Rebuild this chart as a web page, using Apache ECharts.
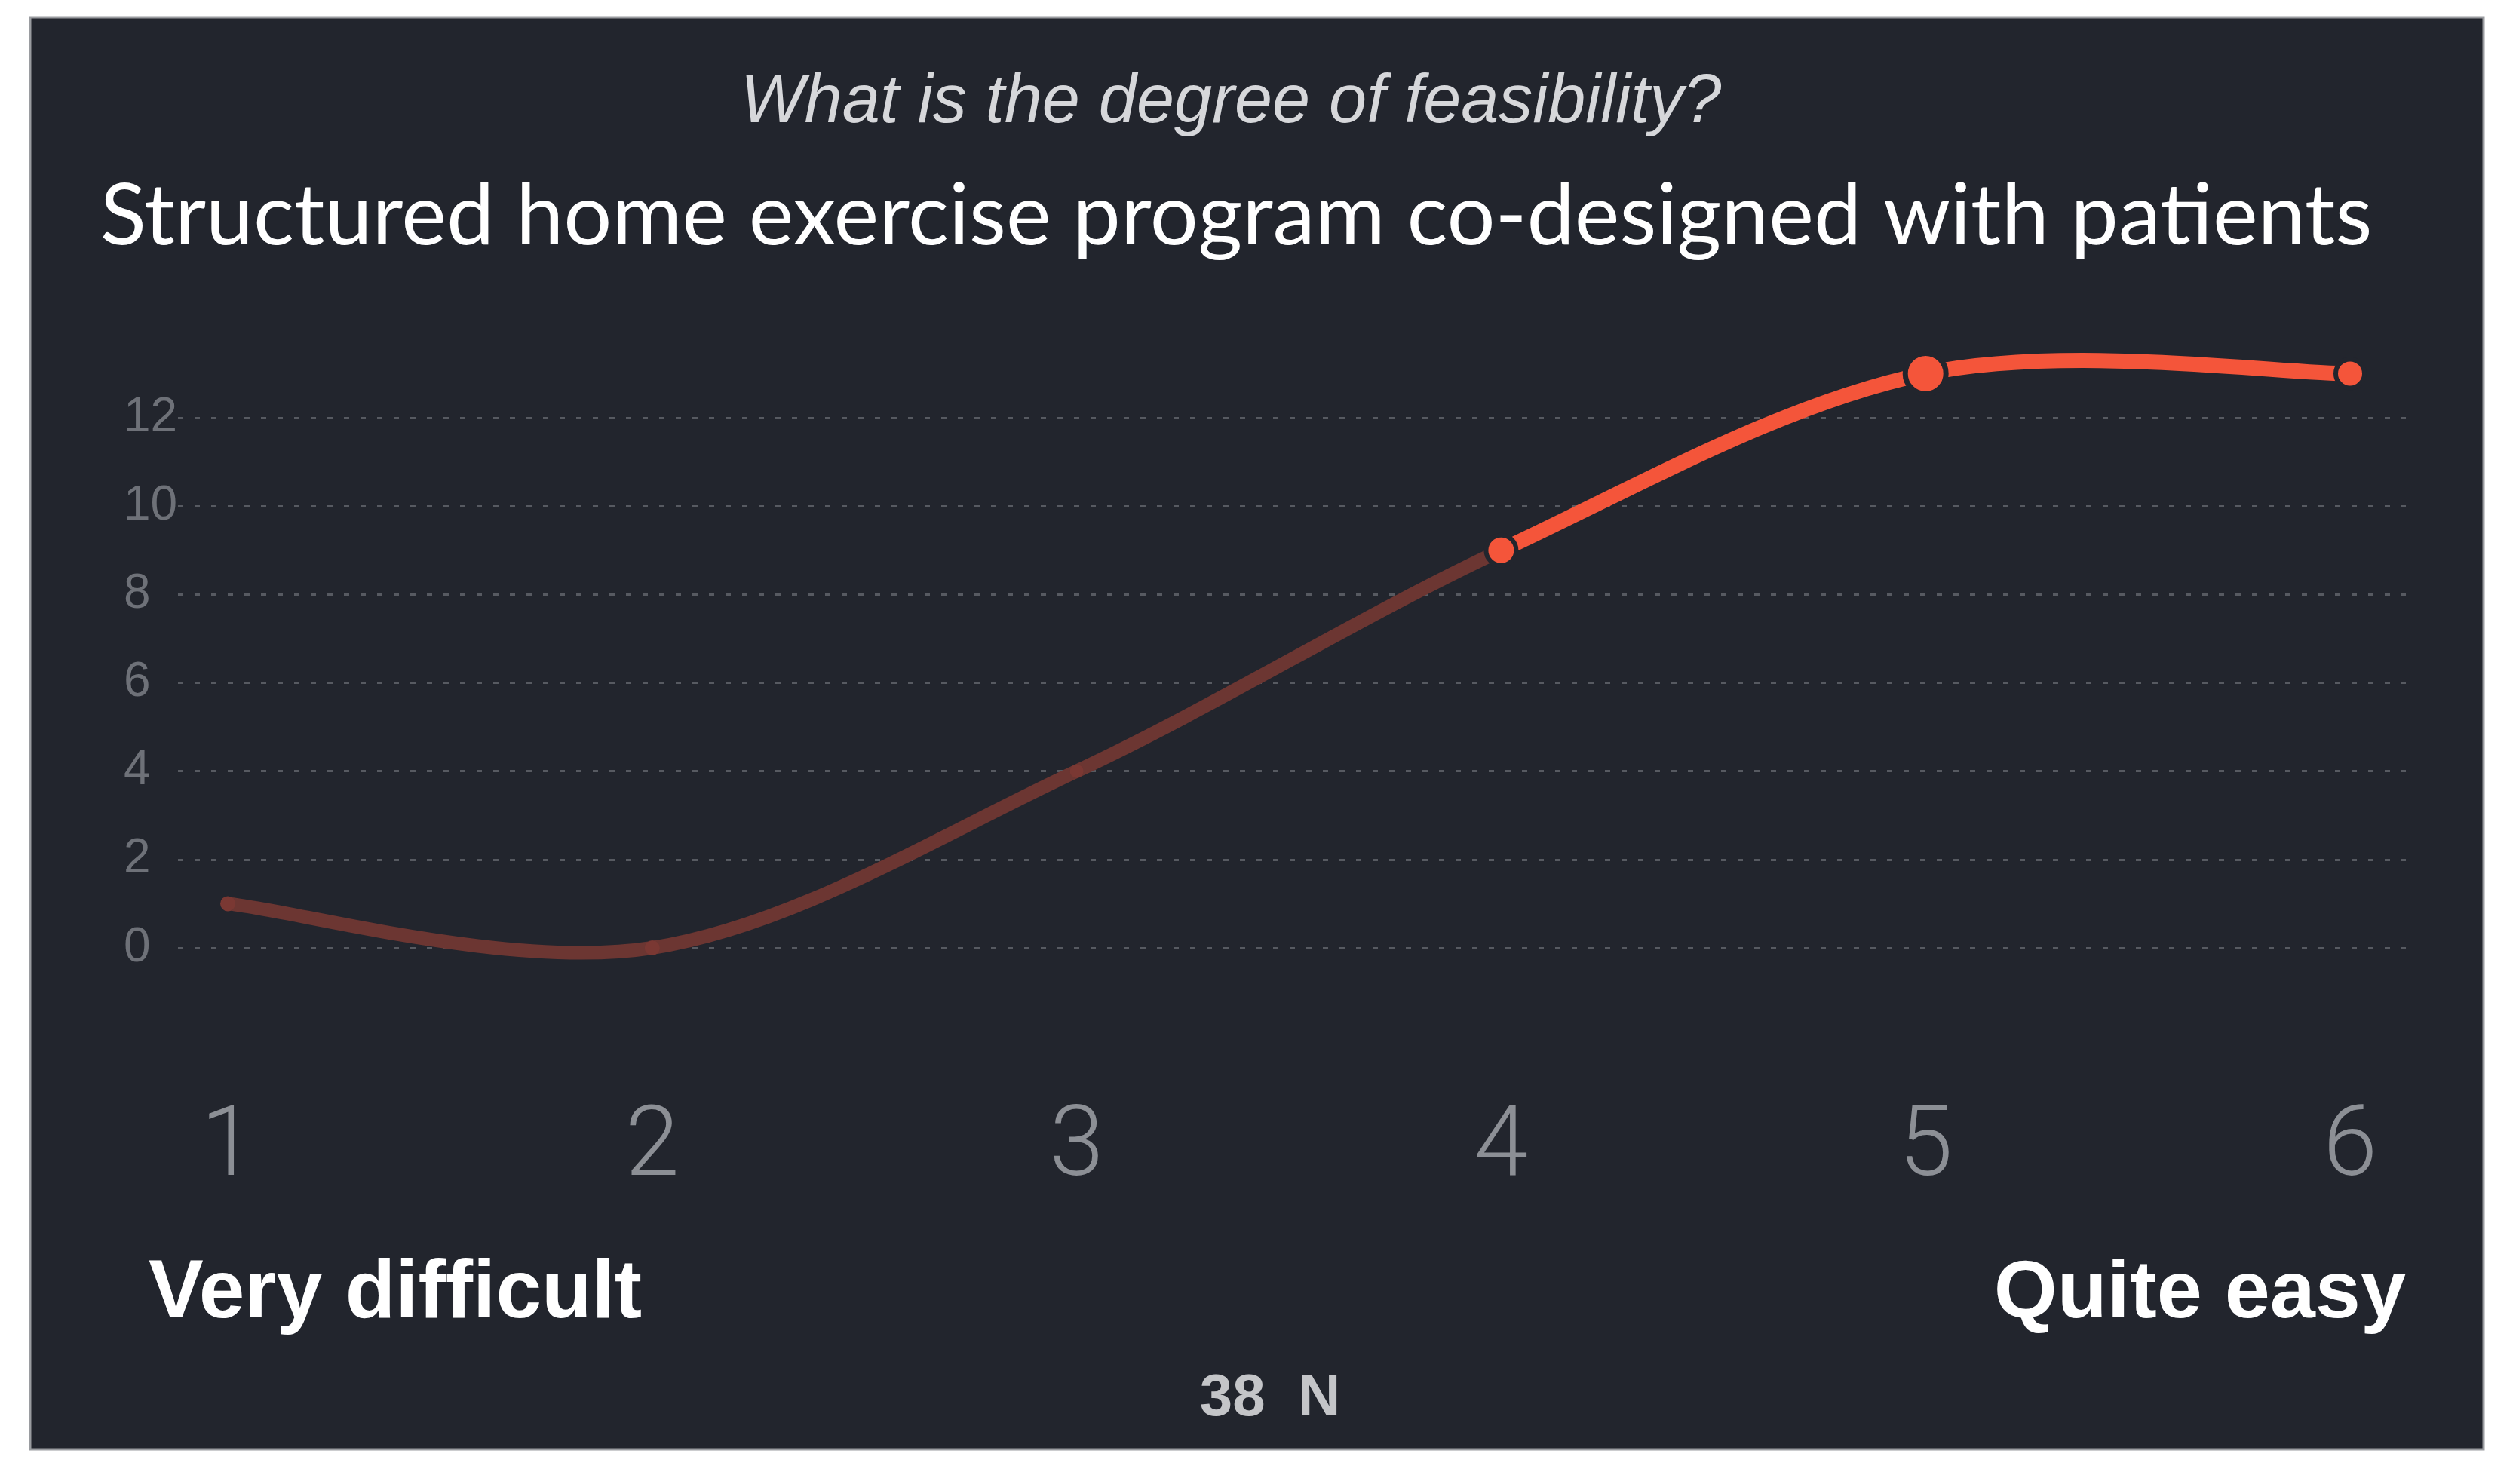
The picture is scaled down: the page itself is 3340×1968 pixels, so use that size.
<!DOCTYPE html>
<html>
<head>
<meta charset="utf-8">
<style>
  html, body { margin: 0; padding: 0; background: #ffffff; }
  #chart { width: 3340px; height: 1968px; }
</style>
<script src="https://cdn.jsdelivr.net/npm/echarts@6/dist/echarts.min.js"></script>
</head>
<body>
<div id="chart"></div>
<script>
// ---- data ----
const categories = ['1', '2', '3', '4', '5', '6'];
const responses = [1, 0, 4, 9, 13, 13];
const yTicks = [0, 2, 4, 6, 8, 10, 12];
const subtitleText = 'What is the degree of feasibility?';
const titleText = 'Structured home exercise program co-designed with patients';
const leftLabel = 'Very difficult';
const rightLabel = 'Quite easy';
const sampleLabel = '38  N';

// ---- styling ----
const BG = '#22252d';
const BRIGHT = '#f4553a';
const DIM = '#6c3632';
const BRIGHT_FROM = 3; // segments starting at this index are bright

const chart = echarts.init(document.getElementById('chart'), null, { renderer: 'canvas' });

const Y0 = 1257, Y12 = 554;
const gridTop = Y12, gridBottom = 1968 - Y0;

const pointStyles = [
  { symbolSize: 20, itemStyle: { color: '#7a3833', borderWidth: 0, opacity: 1 } },
  { symbolSize: 20, itemStyle: { color: '#7a3833', borderWidth: 0, opacity: 1 } },
  { symbolSize: 18, itemStyle: { color: '#7a3833', borderWidth: 0, opacity: 1 } },
  { symbolSize: 40, itemStyle: { color: BRIGHT, borderColor: BG, borderWidth: 6, opacity: 1 } },
  { symbolSize: 54, itemStyle: { color: BRIGHT, borderColor: BG, borderWidth: 7, opacity: 1 } },
  { symbolSize: 38, itemStyle: { color: BRIGHT, borderColor: BG, borderWidth: 6, opacity: 1 } }
];

const markerData = responses.map((v, i) => Object.assign({ value: [i, v] }, pointStyles[i]));
const segmentData = responses.map((v, i) => [i, v]);

// Each data item draws the smooth (Catmull-Rom) segment from itself to the next point.
function renderSegment(params, api) {
  const i = params.dataIndex;
  const n = responses.length;
  if (i >= n - 1) return null;
  const P = k => api.coord([Math.max(0, Math.min(n - 1, k)), responses[Math.max(0, Math.min(n - 1, k))]]);
  const p0 = P(i - 1), p1 = P(i), p2 = P(i + 1), p3 = P(i + 2);
  const c1 = [p1[0] + (p2[0] - p0[0]) / 6, p1[1] + (p2[1] - p0[1]) / 6];
  const c2 = [p2[0] - (p3[0] - p1[0]) / 6, p2[1] - (p3[1] - p1[1]) / 6];
  return {
    type: 'bezierCurve',
    shape: { x1: p1[0], y1: p1[1], cpx1: c1[0], cpy1: c1[1], cpx2: c2[0], cpy2: c2[1], x2: p2[0], y2: p2[1] },
    style: {
      fill: null,
      stroke: i >= BRIGHT_FROM ? BRIGHT : DIM,
      lineWidth: i >= BRIGHT_FROM ? 20 : 18,
      lineCap: 'round'
    }
  };
}

const option = {
  backgroundColor: '#ffffff',
  animation: false,
  graphic: [
    {
      type: 'rect', z: -10,
      shape: { x: 40, y: 23, width: 3253, height: 1899 },
      style: { fill: BG, stroke: '#9a9ca0', lineWidth: 3 }
    },
    {
      type: 'text', x: 1632, y: 137,
      style: {
        text: subtitleText, fill: '#d6d7da',
        font: 'italic 90px "Liberation Sans", Arial, sans-serif',
        textAlign: 'center', textVerticalAlign: 'middle'
      }
    },
    {
      type: 'text', x: 1639, y: 288,
      style: {
        text: titleText, fill: '#ffffff',
        font: '113px Lato, sans-serif',
        textAlign: 'center', textVerticalAlign: 'middle'
      }
    },
    {
      type: 'text', x: 197, y: 1717,
      style: {
        text: leftLabel, fill: '#ffffff',
        font: 'bold 109px "Liberation Sans", Arial, sans-serif',
        textAlign: 'left', textVerticalAlign: 'middle'
      }
    },
    {
      type: 'text', x: 3190, y: 1717,
      style: {
        text: rightLabel, fill: '#ffffff',
        font: 'bold 108px "Liberation Sans", Arial, sans-serif',
        textAlign: 'right', textVerticalAlign: 'middle'
      }
    },
    {
      type: 'text', x: 1684, y: 1855,
      style: {
        text: sampleLabel, fill: '#c4c5c8',
        font: 'bold 78px "Liberation Sans", Arial, sans-serif',
        textAlign: 'center', textVerticalAlign: 'middle'
      }
    }
  ],
  grid: [
    { left: 236, right: 3340 - 3190, top: gridTop, bottom: gridBottom },
    { left: 302, right: 3340 - 3116, top: gridTop, bottom: gridBottom }
  ],
  xAxis: [
    { gridIndex: 0, type: 'value', show: false, min: 0, max: 1 },
    {
      gridIndex: 1, type: 'category', data: categories, boundaryGap: false,
      axisLine: { show: false }, axisTick: { show: false }, splitLine: { show: false },
      axisLabel: {
        color: '#8c8f95', fontFamily: 'Roboto', fontWeight: 300, fontSize: 130,
        margin: 268, verticalAlign: 'middle', interval: 0
      }
    }
  ],
  yAxis: [
    {
      gridIndex: 0, type: 'value', min: yTicks[0], max: yTicks[yTicks.length - 1], interval: 2,
      axisLine: { show: false }, axisTick: { show: false },
      axisLabel: {
        color: '#6e7178', fontFamily: '"Liberation Sans", Arial, sans-serif', fontSize: 64,
        align: 'left', margin: 72, verticalAlign: 'middle'
      },
      splitLine: { show: true, lineStyle: { color: '#575a61', width: 3, type: [7, 15] } }
    },
    {
      gridIndex: 1, type: 'value', min: yTicks[0], max: yTicks[yTicks.length - 1], interval: 2,
      show: false, splitLine: { show: false }
    }
  ],
  series: [
    {
      type: 'custom', xAxisIndex: 1, yAxisIndex: 1,
      data: segmentData, renderItem: renderSegment, clip: false, z: 4, silent: true
    },
    {
      type: 'scatter', xAxisIndex: 1, yAxisIndex: 1,
      data: markerData, symbol: 'circle', clip: false, z: 6,
      itemStyle: { opacity: 1 }
    }
  ]
};

chart.setOption(option);
</script>
</body>
</html>
